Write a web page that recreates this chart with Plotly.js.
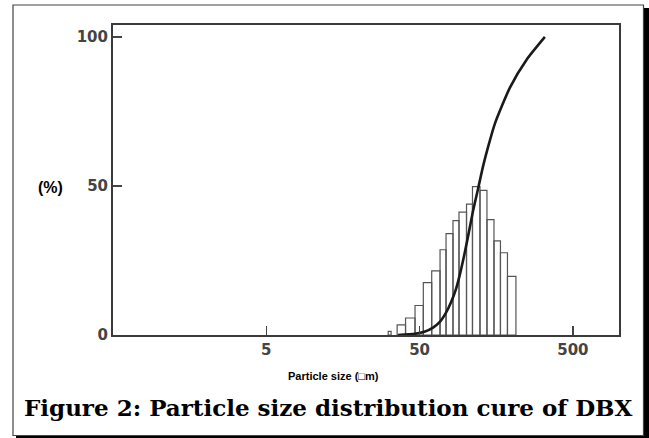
<!DOCTYPE html>
<html>
<head>
<meta charset="utf-8">
<script src="https://cdn.plot.ly/plotly-3.0.1.min.js"></script>
<style>html,body{margin:0;padding:0;background:#fff;}#chart{width:649px;height:438px;}</style>
</head>
<body>
<div id="chart"></div>
<script>
// Histogram bin edges (particle size, µm) and frequencies (%)
const binEdges = [31.2, 32.6, 35.7, 40.5, 46.7, 52.9, 60.0, 68.0, 74.4, 82.6, 90.4, 101.2, 110.7, 123.9, 137.6, 152.9, 168.5, 187.2, 212.6];
// first bin (31.2-32.6) is the tiny stub; second bin (32.6-35.7) is empty
const binValues = [1.2, 0, 3.4, 5.7, 9.9, 17.6, 21.5, 28.6, 34.0, 38.4, 41.2, 43.9, 49.8, 48.5, 38.7, 31.6, 27.6, 19.7];

// Cumulative curve (particle size µm, cumulative %)
const cumSize = [36.2, 46.7, 54.3, 61.2, 68.0, 74.4, 80.2, 86.5, 91.8, 97.5, 103.5, 111.5, 120.3, 129.6, 139.8, 155.2, 194.3, 250.8, 328.5];
const cumPct  = [0, 0.4, 1.2, 2.5, 4.5, 7.5, 11.0, 15.5, 20.5, 26.5, 33.0, 41.5, 49.0, 56.5, 63.0, 71.0, 83.0, 92.5, 100.0];

const xTicks = [5, 50, 500];
const xTickText = ['5', '50', '500'];
const yTicks = [0, 50, 100];
const yTickText = ['0', '50', '100'];

// Build bar outlines
const bx = [], by = [];
for (let i = 0; i < binValues.length; i++) {
  if (binValues[i] <= 0) continue;
  const a = binEdges[i], b = binEdges[i + 1], h = binValues[i];
  bx.push(a, a, b, b, a, null);
  by.push(0, h, h, 0, 0, null);
}

const traces = [
  {
    type: 'scatter', mode: 'lines', x: bx, y: by,
    fill: 'toself', fillcolor: '#ffffff',
    line: {color: '#555555', width: 1.2},
    hoverinfo: 'skip', showlegend: false
  },
  {
    type: 'scatter', mode: 'lines', x: cumSize, y: cumPct,
    line: {color: '#1a1a1a', width: 2.6, shape: 'spline', smoothing: 0.6},
    hoverinfo: 'skip', showlegend: false
  }
];

const W = 649, H = 438, ml = 113, mr = 30, mt = 25, mb = 103;
const pw = W - ml - mr, ph = H - mt - mb;
const px = v => (v - ml) / pw;
const py = v => (H - mb - v) / ph;

const layout = {
  width: W, height: H,
  margin: {l: ml, r: mr, t: mt, b: mb, pad: 0},
  paper_bgcolor: '#ffffff', plot_bgcolor: '#ffffff',
  showlegend: false,
  xaxis: {
    type: 'log', range: [Math.log10(0.5), 3],
    tickvals: xTicks, ticktext: xTickText,
    ticks: 'inside', ticklen: 9, tickwidth: 1.5, tickcolor: '#444',
    showline: true, mirror: true, linecolor: '#3a3a3a', linewidth: 2,
    showgrid: false, zeroline: false,
    tickfont: {family: 'DejaVu Sans', size: 15, color: '#444', weight: 'bold'}
  },
  yaxis: {
    range: [0, 104],
    tickvals: yTicks, ticktext: yTickText,
    ticks: 'inside', ticklen: 9, tickwidth: 1.5, tickcolor: '#444',
    showline: true, mirror: true, linecolor: '#3a3a3a', linewidth: 2,
    showgrid: false, zeroline: false,
    tickfont: {family: 'DejaVu Sans', size: 15, color: '#444', weight: 'bold'}
  },
  annotations: [
    {xref: 'paper', yref: 'paper', x: px(50), y: py(187), text: '(%)', showarrow: false,
     font: {family: 'Liberation Sans', size: 16, color: '#000', weight: 'bold'}, xanchor: 'center', yanchor: 'middle'},
    {xref: 'paper', yref: 'paper', x: px(333), y: py(376), text: 'Particle size (\u25A1m)', showarrow: false,
     font: {family: 'Liberation Sans', size: 11, color: '#000', weight: 'bold'}, xanchor: 'center', yanchor: 'middle'},
    {xref: 'paper', yref: 'paper', x: px(328), y: py(407), text: 'Figure 2: Particle size distribution cure of DBX', showarrow: false,
     font: {family: 'DejaVu Serif', size: 23, color: '#000', weight: 'bold'}, xanchor: 'center', yanchor: 'middle'}
  ],
  shapes: [
    {type: 'rect', xref: 'paper', yref: 'paper', x0: px(644), x1: px(649), y0: py(438), y1: py(8),
     fillcolor: '#000', line: {width: 0}, layer: 'below'},
    {type: 'rect', xref: 'paper', yref: 'paper', x0: px(16), x1: px(649), y0: py(438), y1: py(435.5),
     fillcolor: '#000', line: {width: 0}, layer: 'below'},
    {type: 'rect', xref: 'paper', yref: 'paper', x0: px(13), x1: px(643.5), y0: py(435.5), y1: py(5),
     fillcolor: 'rgba(0,0,0,0)', line: {color: '#444', width: 1.2}}
  ]
};

Plotly.newPlot('chart', traces, layout, {staticPlot: true, displayModeBar: false});
</script>
</body>
</html>
